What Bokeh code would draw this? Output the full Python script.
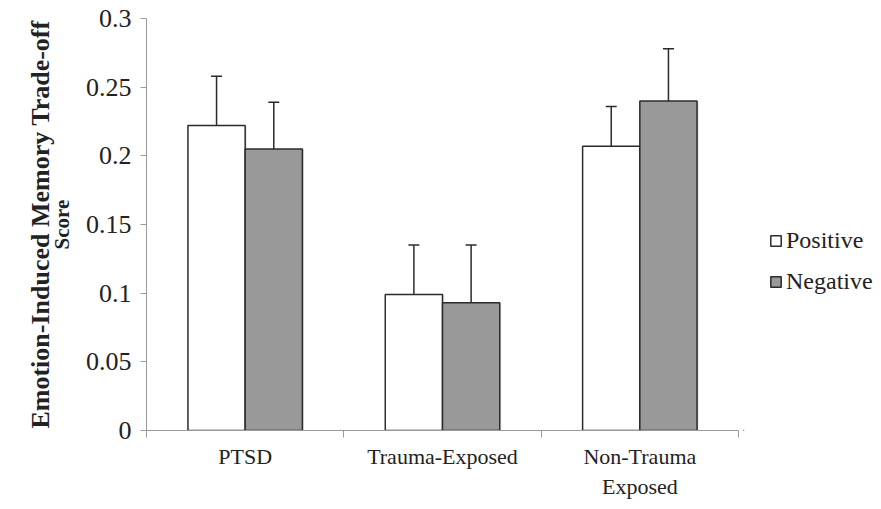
from bokeh.plotting import figure
from bokeh.layouts import row
from bokeh.models import (ColumnDataSource, FixedTicker, Range1d, Legend, LegendItem,
                          Whisker, LinearAxis)
from bokeh.embed import file_html
from bokeh.resources import INLINE

groups = ["PTSD", "Trauma-Exposed", "Non-Trauma\nExposed"]
series = ["Positive", "Negative"]
positive = [0.222, 0.099, 0.207]
positive_lo = [0.185, 0.063, 0.178]
positive_hi = [0.258, 0.135, 0.236]
negative = [0.205, 0.093, 0.240]
negative_lo = [0.171, 0.050, 0.202]
negative_hi = [0.239, 0.135, 0.278]
y_ticks = [0, 0.05, 0.1, 0.15, 0.2, 0.25, 0.3]
y_labels = ["0", "0.05", "0.1", "0.15", "0.2", "0.25", "0.3"]
y_title_1 = "Emotion-Induced Memory Trade-off"
y_title_2 = "Score"

FONT = "Liberation Serif"
POS_FILL = "white"
NEG_FILL = "#999999"
EDGE = "#2b2b2b"
TXT = "#222222"
bw = 0.29
centers = [i + 0.5 for i in range(len(groups))]
pos_x = [c - bw / 2 for c in centers]
neg_x = [c + bw / 2 for c in centers]

p = figure(width=743, height=505, output_backend="svg", toolbar_location=None,
           x_range=Range1d(0, 3), y_range=Range1d(0, 0.3),
           min_border_left=146, min_border_right=5, min_border_top=18,
           min_border_bottom=75)
p.background_fill_color = "white"
p.border_fill_color = "white"
p.outline_line_color = None
p.grid.visible = False

src_p = ColumnDataSource(dict(x=pos_x, top=positive, lo=positive_lo, hi=positive_hi))
src_n = ColumnDataSource(dict(x=neg_x, top=negative, lo=negative_lo, hi=negative_hi))

# faint shadows
p.vbar(x=[x + 0.008 for x in pos_x], top=positive, width=bw, bottom=0,
       fill_color="#cccccc", fill_alpha=0.5, line_color=None)
p.vbar(x=[x + 0.008 for x in neg_x], top=negative, width=bw, bottom=0,
       fill_color="#cccccc", fill_alpha=0.5, line_color=None)

p.vbar(x="x", top="top", width=bw, bottom=0, source=src_p,
       fill_color=POS_FILL, line_color=EDGE, line_width=1.5)
p.vbar(x="x", top="top", width=bw, bottom=0, source=src_n,
       fill_color=NEG_FILL, line_color=EDGE, line_width=1.5)

for src in (src_p, src_n):
    w = Whisker(base="x", lower="lo", upper="hi", source=src,
                line_color=EDGE, line_width=1.5)
    for h in (w.upper_head, w.lower_head):
        h.size = 11
        h.line_color = EDGE
        h.line_width = 1.5
    p.add_layout(w)

# y axis
yax = p.yaxis[0]
yax.ticker = FixedTicker(ticks=y_ticks)
yax.major_label_overrides = {t: l for t, l in zip(y_ticks, y_labels)}
yax.axis_line_color = "#999999"
yax.major_tick_line_color = "#999999"
yax.major_tick_in = 0
yax.major_tick_out = 6
yax.minor_tick_line_color = None
yax.major_label_text_font = FONT
yax.major_label_text_font_size = "26px"
yax.major_label_text_color = TXT
yax.major_label_standoff = 9
yax.axis_label = y_title_2
yax.axis_label_text_font = FONT
yax.axis_label_text_font_style = "bold"
yax.axis_label_text_font_size = "21px"
yax.axis_label_text_color = TXT
yax.axis_label_standoff = 9

yax2 = LinearAxis(ticker=FixedTicker(ticks=[]), axis_line_color=None,
                  major_tick_line_color=None, minor_tick_line_color=None,
                  major_label_text_font_size="0px",
                  axis_label=y_title_1, axis_label_text_font=FONT,
                  axis_label_text_font_style="bold",
                  axis_label_text_font_size="26px",
                  axis_label_text_color=TXT, axis_label_standoff=-8)
p.add_layout(yax2, "left")

# x axis
xax = p.xaxis[0]
xax.ticker = FixedTicker(ticks=centers, minor_ticks=[0, 1, 2, 3])
xax.major_label_overrides = {c: g for c, g in zip(centers, groups)}
xax.axis_line_color = "#999999"
xax.major_tick_line_color = None
xax.minor_tick_line_color = "#999999"
xax.minor_tick_in = 0
xax.minor_tick_out = 7
xax.major_label_text_font = FONT
xax.major_label_text_font_size = "22px"
xax.major_label_text_color = TXT
xax.major_label_standoff = 6

# legend figure
q = figure(width=130, height=505, output_backend="svg", toolbar_location=None,
           x_range=Range1d(0, 1), y_range=Range1d(0, 1),
           min_border=0)
q.axis.visible = False
q.grid.visible = False
q.outline_line_color = None
q.background_fill_color = "white"
q.border_fill_color = "white"
# legend proxies, placed outside the visible range
lp = q.vbar(x=[-5], top=[-5], bottom=[-6], width=0.1,
            fill_color=POS_FILL, line_color=EDGE, line_width=1.5)
ln = q.vbar(x=[-5], top=[-5], bottom=[-6], width=0.1,
            fill_color=NEG_FILL, line_color=EDGE, line_width=1.5)
legend = Legend(items=[LegendItem(label=series[0], renderers=[lp]),
                       LegendItem(label=series[1], renderers=[ln])],
                location=(26, 135), orientation="vertical",
                label_text_font=FONT, label_text_font_size="24px",
                label_text_color=TXT, glyph_width=13, glyph_height=13,
                label_standoff=4, spacing=14, padding=0, margin=0,
                border_line_color=None, background_fill_alpha=0)
q.add_layout(legend, "center")

open("out.html", "w").write(file_html(row(p, q), INLINE))
